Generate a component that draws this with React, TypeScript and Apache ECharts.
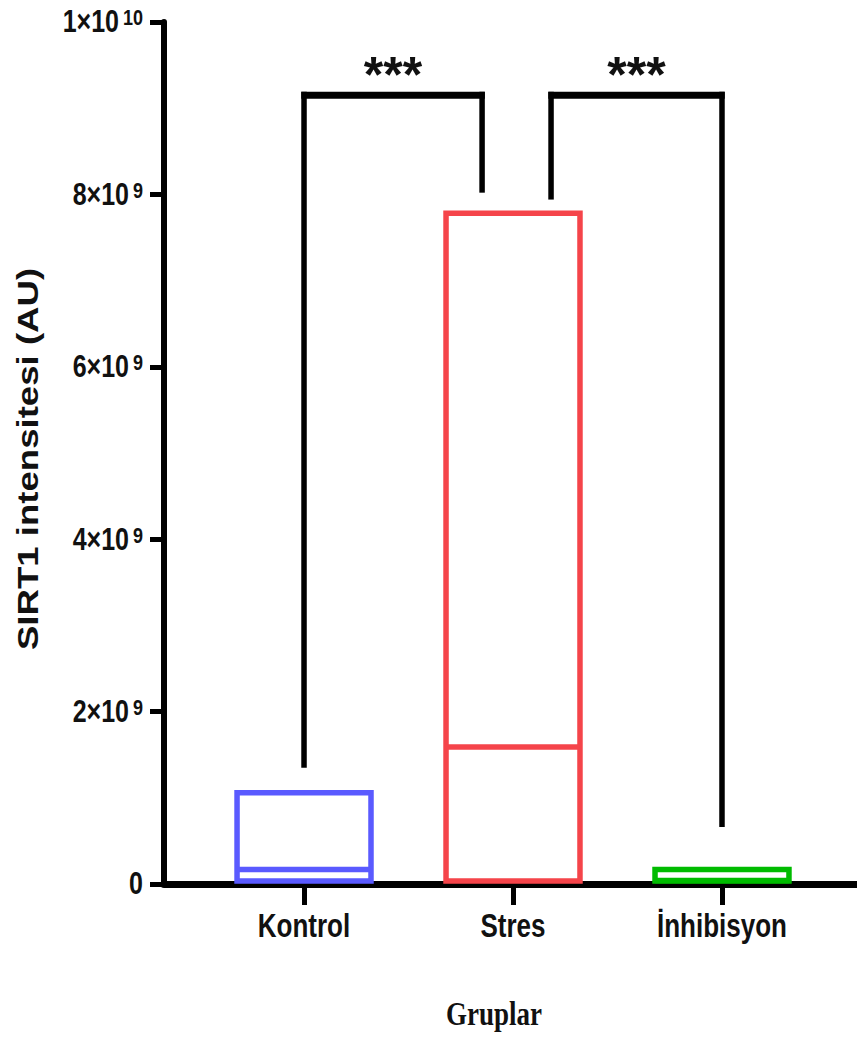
import React, { useEffect, useRef } from "react";
import * as echarts from "echarts";

const categories = ["Kontrol", "Stres", "İnhibisyon"];
const positions = [1, 2, 3];
const minValues = [0.035e9, 0.035e9, 0.035e9];
const medianValues = [0.168e9, 1.59e9, 0.04e9];
const maxValues = [1.06e9, 7.78e9, 0.168e9];
const boxColors = ["#5a5aff", "#f5444a", "#00bb00"];

// significance brackets
const bracketLeftX = [1, 2.182];
const bracketLeftY = [1.35e9, 7.94e9];
const bracketRightX = [1.852, 3];
const bracketRightY = [8.02e9, 0.66e9];
const bracketTopY = [9.15e9, 9.15e9];
const starLabels = ["***", "***"];
const starX = [1.426, 2.591];
const starY = [9.38e9, 9.38e9];

const yMin = 0;
const yMax = 1e10;
const yInterval = 2e9;
const yTickValues = [0, 2e9, 4e9, 6e9, 8e9, 1e10];

const FONT = "'Liberation Sans', Arial, sans-serif";

function tickText(v: number) {
  if (v === 0) return "{a|0}";
  const e = Math.floor(Math.log10(v) + 1e-9);
  const m = Math.round(v / Math.pow(10, e));
  return `{a|${m}×10}{e|${e}}`;
}

export default function App() {
  const ref = useRef<HTMLDivElement>(null);
  useEffect(() => {
    if (!ref.current) return;
    const chart = echarts.init(ref.current, null, { renderer: "svg" });
    const boxData = positions.map((p, i) => [p, minValues[i], medianValues[i], maxValues[i], i]);
    const starData = starX.map((x, i) => [x, starY[i], i]);
    const bracketData = bracketLeftX.map((x, i) => [
      x,
      bracketLeftY[i],
      bracketRightX[i],
      bracketRightY[i],
      bracketTopY[i],
    ]);
    const xLabelData = positions.map((p, i) => [p, 0, i]);
    const yLabelData = yTickValues.map((v, i) => [1, v, i]);
    chart.setOption({
      animation: false,
      backgroundColor: "#ffffff",
      grid: { left: 164, right: 0, top: 22, bottom: 153 },
      xAxis: {
        type: "value",
        min: 0.33,
        max: 3.646,
        splitLine: { show: false },
        axisLine: { show: true, lineStyle: { color: "#000", width: 7 } },
        axisTick: {
          show: true,
          customValues: positions,
          length: 21,
          lineStyle: { color: "#000", width: 5 },
        },
        axisLabel: { show: false },
      },
      yAxis: {
        type: "value",
        min: yMin,
        max: yMax,
        interval: yInterval,
        splitLine: { show: false },
        axisLine: { show: true, lineStyle: { color: "#000", width: 6 } },
        axisTick: { show: true, length: 14, lineStyle: { color: "#000", width: 5 } },
        axisLabel: { show: false },
      },
      graphic: [
        {
          type: "text",
          x: 28,
          y: 459,
          rotation: Math.PI / 2,
          scaleX: 1.22,
          style: {
            text: "SIRT1 intensitesi (AU)",
            font: `bold 30px ${FONT}`,
            fill: "#111",
            align: "center",
            verticalAlign: "middle",
          },
        },
        {
          type: "text",
          x: 494,
          y: 1014,
          scaleY: 1.27,
          style: {
            text: "Gruplar",
            font: "bold 27px 'Liberation Serif', 'Times New Roman', serif",
            fill: "#111",
            align: "center",
            verticalAlign: "middle",
          },
        },
      ],
      series: [
        {
          type: "custom",
          data: bracketData,
          clip: false,
          z: 3,
          renderItem: (params: any, api: any) => {
            const l = api.coord([api.value(0), api.value(1)]);
            const r = api.coord([api.value(2), api.value(3)]);
            const t = api.coord([api.value(0), api.value(4)]);
            const vs = { stroke: "#000", lineWidth: 5.5, lineCap: "butt" };
            const hs = { stroke: "#000", lineWidth: 7, lineCap: "butt" };
            return {
              type: "group",
              children: [
                { type: "line", shape: { x1: l[0], y1: l[1], x2: l[0], y2: t[1] - 3.5 }, style: vs },
                { type: "line", shape: { x1: r[0], y1: r[1], x2: r[0], y2: t[1] - 3.5 }, style: vs },
                {
                  type: "line",
                  shape: { x1: l[0] - 2.75, y1: t[1], x2: r[0] + 2.75, y2: t[1] },
                  style: hs,
                },
              ],
            };
          },
        },
        {
          type: "custom",
          data: boxData,
          clip: false,
          z: 4,
          renderItem: (params: any, api: any) => {
            const x = api.value(0);
            const lo = api.coord([x, api.value(1)]);
            const med = api.coord([x, api.value(2)]);
            const hi = api.coord([x, api.value(3)]);
            const w = api.size([0.641, 0])[0];
            const color = boxColors[api.value(4)];
            return {
              type: "group",
              children: [
                {
                  type: "rect",
                  shape: { x: lo[0] - w / 2, y: hi[1], width: w, height: lo[1] - hi[1] },
                  style: { fill: "none", stroke: color, lineWidth: 5.5 },
                },
                {
                  type: "line",
                  shape: { x1: lo[0] - w / 2, y1: med[1], x2: lo[0] + w / 2, y2: med[1] },
                  style: { stroke: color, lineWidth: 5.5 },
                },
              ],
            };
          },
        },
        {
          type: "custom",
          data: starData,
          clip: false,
          z: 5,
          renderItem: (params: any, api: any) => {
            const p = api.coord([api.value(0), api.value(1)]);
            return {
              type: "text",
              x: p[0],
              y: p[1],
              style: {
                text: starLabels[api.value(2)],
                font: `bold 50px ${FONT}`,
                fill: "#111",
                align: "center",
                verticalAlign: "middle",
              },
            };
          },
        },
        {
          type: "custom",
          data: xLabelData,
          clip: false,
          z: 5,
          renderItem: (params: any, api: any) => {
            const p = api.coord([api.value(0), api.value(1)]);
            return {
              type: "text",
              x: p[0],
              y: p[1] + 41,
              scaleY: 1.3,
              style: {
                text: categories[api.value(2)],
                font: `bold 26px ${FONT}`,
                fill: "#111",
                align: "center",
                verticalAlign: "middle",
              },
            };
          },
        },
        {
          type: "custom",
          data: yLabelData,
          clip: false,
          z: 5,
          renderItem: (params: any, api: any) => {
            const p = api.coord([0.33, api.value(1)]);
            return {
              type: "text",
              x: p[0] - 21,
              y: p[1],
              scaleY: 1.23,
              style: {
                text: tickText(yTickValues[api.value(2)]),
                align: "right",
                verticalAlign: "middle",
                fill: "#111",
                rich: {
                  a: { fontFamily: FONT, fontWeight: "bold", fontSize: 25, fill: "#111" },
                  e: {
                    fontFamily: FONT,
                    fontWeight: "bold",
                    fontSize: 18,
                    fill: "#111",
                    padding: [0, 0, 7, 4],
                  },
                },
              },
            };
          },
        },
      ],
    });
    return () => chart.dispose();
  }, []);
  return (
    <div
      ref={ref}
      style={{ position: "fixed", left: 0, top: 0, width: 857, height: 1037, background: "#fff" }}
    />
  );
}
